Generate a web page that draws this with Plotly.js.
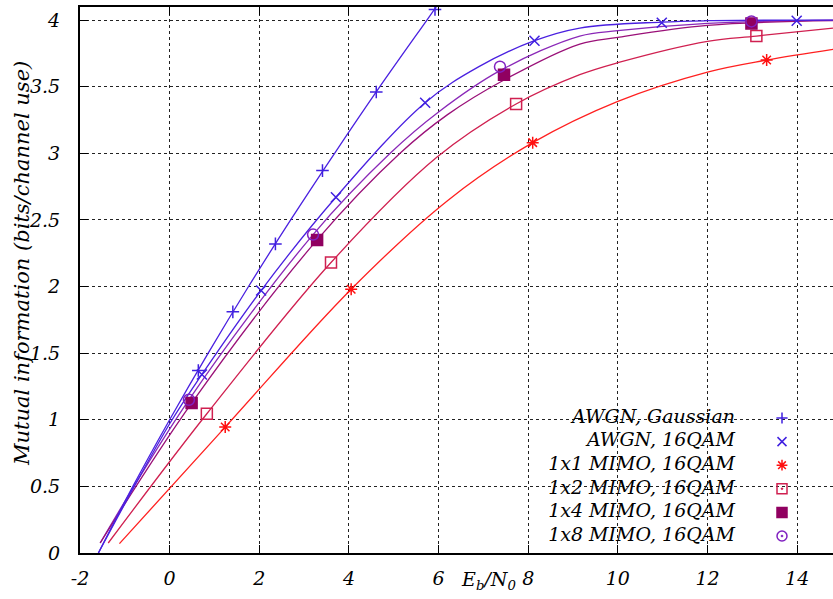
<!DOCTYPE html>
<html>
<head>
<meta charset="utf-8">
<script src="https://cdn.plot.ly/plotly-3.0.1.min.js"></script>
<style>
html,body{margin:0;padding:0;background:#fff;overflow:hidden;}
#chart{width:833px;height:599px;}
</style>
</head>
<body>
<div id="chart"></div>
<script>
// ---- data ----
var seriesNames = ["AWGN, Gaussian", "AWGN, 16QAM", "1x1 MIMO, 16QAM", "1x2 MIMO, 16QAM", "1x4 MIMO, 16QAM", "1x8 MIMO, 16QAM"];

var gaussLineX = [-1.59, -0.82, 0, 0.86, 1.76, 2.70, 3.68, 4.69, 5.74, 5.95];
var gaussLineY = [0, 0.5, 1, 1.5, 2, 2.5, 3, 3.5, 4, 4.1];
var gaussMarkX = [0.64, 1.41, 2.36, 3.41, 4.61, 5.92];
var gaussMarkY = [1.37, 1.81, 2.32, 2.87, 3.46, 4.08];

var qamLineX = [-1.59, 0, 0.72, 2.04, 3.71, 5.70, 6.9, 8.14, 9.15, 10.98, 12, 14.8];
var qamLineY = [0, 0.97, 1.34, 1.97, 2.67, 3.38, 3.65, 3.845, 3.94, 3.985, 3.995, 4.0];
var qamMarkX = [0.72, 2.04, 3.71, 5.70, 8.14, 10.98, 13.99];
var qamMarkY = [1.34, 1.97, 2.67, 3.38, 3.845, 3.98, 3.995];

var mimo1LineX = [-1.12, 1.24, 4.05, 6.22, 8.10, 10, 12, 13.32, 14.8];
var mimo1LineY = [0.07, 0.945, 1.98, 2.65, 3.08, 3.39, 3.61, 3.70, 3.78];
var mimo1MarkX = [1.24, 4.05, 8.10, 13.32];
var mimo1MarkY = [0.945, 1.98, 3.08, 3.70];

var mimo2LineX = [-1.37, 0.83, 3.60, 5.96, 7.73, 9.15, 10, 12, 13.09, 14.8];
var mimo2LineY = [0.075, 1.045, 2.18, 2.97, 3.37, 3.59, 3.68, 3.84, 3.88, 3.94];
var mimo2MarkX = [0.83, 3.60, 7.73, 13.09];
var mimo2MarkY = [1.045, 2.18, 3.37, 3.88];

var mimo4LineX = [-1.55, 0.49, 3.29, 5.14, 6.2, 7.46, 9.15, 10, 12, 14.8];
var mimo4LineY = [0.075, 1.125, 2.35, 3.0, 3.29, 3.55, 3.82, 3.87, 3.96, 3.995];
var mimo4MarkX = [0.49, 3.29, 7.46, 12.98];
var mimo4MarkY = [1.125, 2.35, 3.59, 3.975];

var mimo8LineX = [-1.55, 0.43, 3.20, 4.92, 6.0, 7.37, 9.15, 10, 12, 14.8];
var mimo8LineY = [0.075, 1.15, 2.39, 3.0, 3.31, 3.62, 3.88, 3.92, 3.975, 4.0];
var mimo8MarkX = [0.43, 3.20, 7.37, 12.98];
var mimo8MarkY = [1.15, 2.39, 3.65, 3.99];

var xTickVals = [-2, 0, 2, 4, 6, 8, 10, 12, 14];
var xTickText = ["-2", "0", "2", "4", "6", "8", "10", "12", "14"];
var yTickVals = [0, 0.5, 1, 1.5, 2, 2.5, 3, 3.5, 4];
var yTickText = ["0", "0.5", "1", "1.5", "2", "2.5", "3", "3.5", "4"];

// ---- styles ----
var lineColors = ["#4a20e0", "#4a20e0", "#ff2020", "#d02050", "#9a1078", "#8a28b8"];
var markColors = ["#4020e0", "#4020e0", "#ff1010", "#d02050", "#900060", "#8020c0"];
var markSymbols = ["cross-thin-open", "x-thin-open", "asterisk-open", "square-open", "square", "circle-open"];
var keySymbols = ["cross-thin-open", "x-thin-open", "asterisk-open", "square-open-dot", "square", "circle-open-dot"];
var markSizes = [9, 10, 10, 11, 11, 11];

var F = "DejaVu Serif";

var lineXs = [gaussLineX, qamLineX, mimo1LineX, mimo2LineX, mimo4LineX, mimo8LineX];
var lineYs = [gaussLineY, qamLineY, mimo1LineY, mimo2LineY, mimo4LineY, mimo8LineY];
var markXs = [gaussMarkX, qamMarkX, mimo1MarkX, mimo2MarkX, mimo4MarkX, mimo8MarkX];
var markYs = [gaussMarkY, qamMarkY, mimo1MarkY, mimo2MarkY, mimo4MarkY, mimo8MarkY];

var traces = [];
for (var i = lineXs.length - 1; i >= 0; i--) {
  traces.push({
    x: lineXs[i], y: lineYs[i], mode: "lines", type: "scatter",
    line: {color: lineColors[i], width: 1.3, shape: "spline", smoothing: 1.0},
    hoverinfo: "skip", cliponaxis: true
  });
}
for (var j = 0; j < markXs.length; j++) {
  traces.push({
    x: markXs[j], y: markYs[j], mode: "markers", type: "scatter",
    marker: {symbol: markSymbols[j], size: markSizes[j], color: markColors[j],
             line: {color: markColors[j], width: 1.5}},
    hoverinfo: "skip", cliponaxis: true
  });
}

// key (hidden key axis: rows indexed 0..5, columns in figure px)
var keyRows = [0, 1, 2, 3, 4, 5];
var keyTextCol = seriesNames.map(function(){ return 735; });
var keyMarkCol = seriesNames.map(function(){ return 782; });
traces.push({
  x: keyTextCol, y: keyRows, xaxis: "x2", yaxis: "y2", mode: "text", type: "scatter",
  text: seriesNames, textposition: "middle left",
  textfont: {family: F, size: 19, style: "italic", color: "#000"},
  hoverinfo: "skip", cliponaxis: false
});
for (var k = 0; k < keyRows.length; k++) {
  traces.push({
    x: [keyMarkCol[k]], y: [keyRows[k]], xaxis: "x2", yaxis: "y2", mode: "markers", type: "scatter",
    marker: {symbol: keySymbols[k], size: markSizes[k] - 1, color: markColors[k],
             line: {color: markColors[k], width: 1.5}},
    hoverinfo: "skip", cliponaxis: false
  });
}

var W = 833, H = 599, L = 80, T = 7, B = 46;
var plotW = W - L, plotH = H - T - B;
function px2paperX(p){ return (p - L) / plotW; }
function px2paperY(p){ return (H - B - p) / plotH; }

var tickFont = {family: F, size: 19, style: "italic", color: "#000"};
var titleFont = {family: F, size: 21, style: "italic", color: "#000"};
var xTitleFont = {family: F, size: 19, style: "italic", color: "#000"};

var layout = {
  width: W, height: H,
  margin: {l: L, r: 0, t: T, b: B, pad: 0},
  paper_bgcolor: "#fff", plot_bgcolor: "#fff",
  showlegend: false, hovermode: false,
  xaxis: {
    range: [-2, 14.8], tickmode: "array", tickvals: xTickVals, ticktext: xTickText,
    ticks: "inside", ticklen: 8, tickwidth: 1, tickcolor: "#000",
    showline: true, linecolor: "#000", linewidth: 2, mirror: "ticks",
    showgrid: true, gridcolor: "#222", griddash: "dot", gridwidth: 1,
    zeroline: false, tickfont: tickFont, ticklabelstandoff: 7
  },
  yaxis: {
    range: [0, 4.098], tickmode: "array", tickvals: yTickVals, ticktext: yTickText,
    ticks: "inside", ticklen: 8, tickwidth: 1, tickcolor: "#000",
    showline: true, linecolor: "#000", linewidth: 2, mirror: false,
    showgrid: true, gridcolor: "#222", griddash: "dot", gridwidth: 1,
    zeroline: false, tickfont: tickFont, ticklabelstandoff: 14
  },
  xaxis2: {overlaying: "x", anchor: "y2", range: [L, W], visible: false, fixedrange: true},
  yaxis2: {overlaying: "y", anchor: "x2", range: [(H - B - 418) / 23.6, (T - 418) / 23.6], visible: false, fixedrange: true},
  shapes: [{
    type: "rect", layer: "between", xref: "paper", yref: "paper",
    x0: px2paperX(522), x1: px2paperX(826), y0: 0, y1: px2paperY(404),
    fillcolor: "#fff", line: {width: 0}
  }],
  annotations: [
    {text: "Mutual information (bits/channel use)", textangle: -90,
     xref: "paper", yref: "paper", x: px2paperX(22), y: px2paperY(264),
     xanchor: "center", yanchor: "middle", showarrow: false, font: titleFont},
    {text: "E<sub>b</sub>/N<sub>0</sub>",
     xref: "paper", yref: "paper", x: px2paperX(488), y: px2paperY(580),
     xanchor: "center", yanchor: "middle", showarrow: false, font: xTitleFont}
  ]
};

Plotly.newPlot("chart", traces, layout, {displayModeBar: false, staticPlot: true});
</script>
</body>
</html>
